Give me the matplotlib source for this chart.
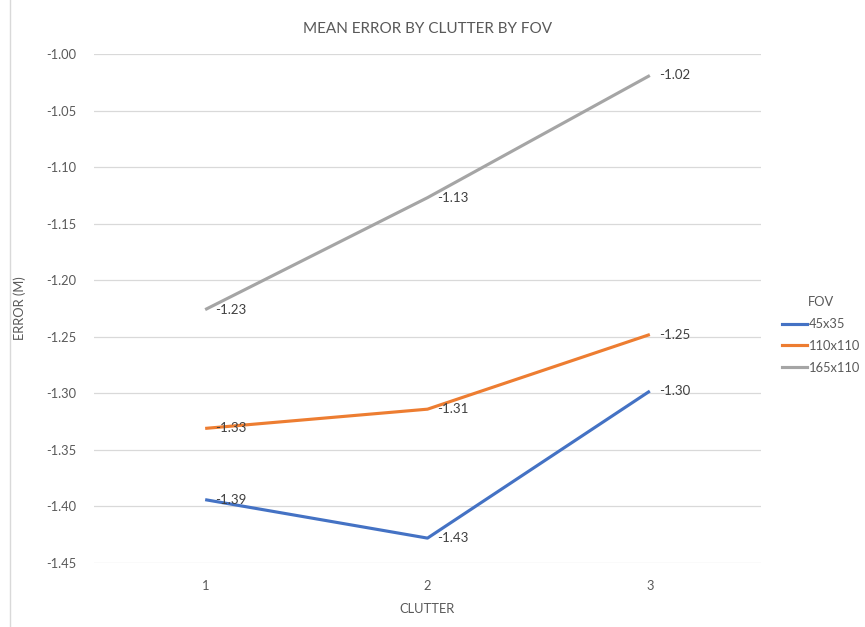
import matplotlib.pyplot as plt
from matplotlib.lines import Line2D

plt.rcParams['font.family'] = ['Lato', 'DejaVu Sans']

clutter = [1, 2, 3]
series_names = ['45x35', '110x110', '165x110']
err_45x35 = [-1.394, -1.428, -1.298]
err_110x110 = [-1.331, -1.314, -1.248]
err_165x110 = [-1.226, -1.127, -1.019]
yticks = [-1.00, -1.05, -1.10, -1.15, -1.20, -1.25, -1.30, -1.35, -1.40, -1.45]

colors = ['#4472C4', '#ED7D31', '#A5A5A5']
txt = '#595959'

fig = plt.figure(figsize=(8.65, 6.27), dpi=100)
ax = fig.add_axes([94 / 865, 1 - 563 / 627, (761 - 94) / 865, (563 - 54) / 627])

for vals, name, c in zip([err_45x35, err_110x110, err_165x110], series_names, colors):
    ax.plot(clutter, vals, color=c, lw=2.25, label=name, solid_capstyle='butt')
    for x, y in zip(clutter, vals):
        ax.annotate(f'{y:.2f}', (x, y), xytext=(7, 0), textcoords='offset points',
                    va='center', ha='left', fontsize=9.5, color='#404040')

ax.set_xlim(0.5, 3.5)
ax.set_ylim(-1.45, -1.00)
ax.set_yticks(yticks)
ax.set_yticklabels([f'{v:.2f}' for v in yticks])
ax.set_xticks(clutter)
ax.grid(axis='y', color='#D9D9D9', lw=0.9)
ax.set_axisbelow(True)
for s in ax.spines.values():
    s.set_visible(False)
ax.tick_params(axis='both', length=0, colors=txt, labelsize=9.3)
ax.tick_params(axis='y', pad=13)
ax.tick_params(axis='x', pad=12)

ax.set_title('MEAN ERROR BY CLUTTER BY FOV', fontsize=11, color=txt, pad=15)
ax.set_xlabel('CLUTTER', fontsize=9.3, color=txt, labelpad=8)
ax.set_ylabel('ERROR (M)', fontsize=9.3, color=txt, labelpad=14)

handles = [Line2D([], [], color=c, lw=2.25) for c in colors]
leg = fig.legend(handles, series_names, title='FOV', loc='center left',
                 bbox_to_anchor=(770 / 865, 1 - 335 / 627), frameon=False,
                 fontsize=9.3, title_fontsize=9.3, handlelength=2.0, handletextpad=0.1,
                 labelspacing=0.75, labelcolor=txt)
leg.get_title().set_color(txt)

fig.add_artist(Line2D([10 / 865, 10 / 865], [0, 1], color='#D9D9D9', lw=1))

fig.savefig('out.png', dpi=100)
